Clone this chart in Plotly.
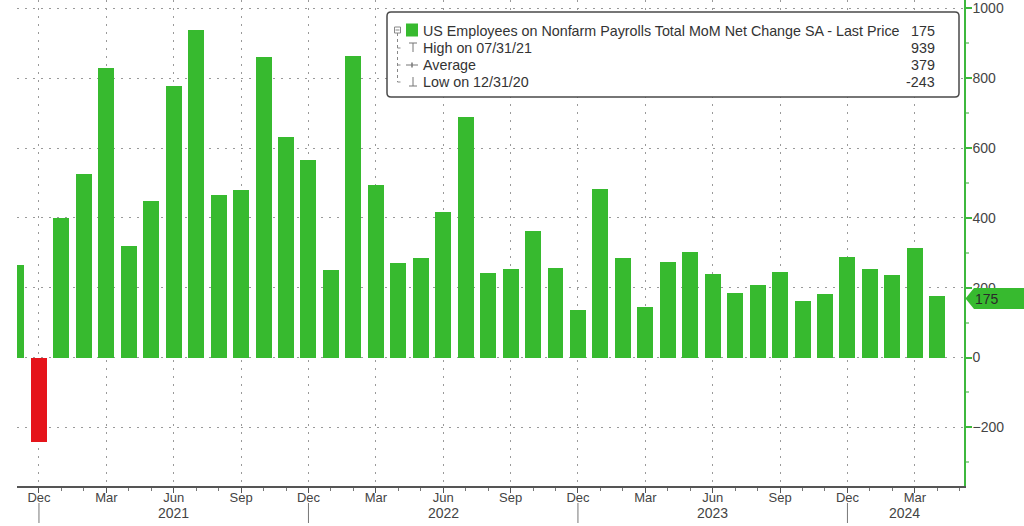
import plotly.graph_objects as go

# ---------------- data ----------------
months = ["Nov 2020", "Dec 2020",
          "Jan 2021", "Feb 2021", "Mar 2021", "Apr 2021", "May 2021", "Jun 2021",
          "Jul 2021", "Aug 2021", "Sep 2021", "Oct 2021", "Nov 2021", "Dec 2021",
          "Jan 2022", "Feb 2022", "Mar 2022", "Apr 2022", "May 2022", "Jun 2022",
          "Jul 2022", "Aug 2022", "Sep 2022", "Oct 2022", "Nov 2022", "Dec 2022",
          "Jan 2023", "Feb 2023", "Mar 2023", "Apr 2023", "May 2023", "Jun 2023",
          "Jul 2023", "Aug 2023", "Sep 2023", "Oct 2023", "Nov 2023", "Dec 2023",
          "Jan 2024", "Feb 2024", "Mar 2024", "Apr 2024"]
values = [264, -243,
          400, 526, 830, 318, 449, 779, 939, 465, 480, 861, 632, 566,
          251, 864, 495, 270, 285, 418, 690, 242, 254, 361, 257, 136,
          483, 285, 145, 275, 303, 239, 185, 209, 245, 163, 181, 288,
          254, 236, 315, 175]

tick_months = ["Dec 2020", "Mar 2021", "Jun 2021", "Sep 2021", "Dec 2021",
               "Mar 2022", "Jun 2022", "Sep 2022", "Dec 2022", "Mar 2023",
               "Jun 2023", "Sep 2023", "Dec 2023", "Mar 2024"]
tick_text = ["Dec", "Mar", "Jun", "Sep", "Dec", "Mar", "Jun", "Sep",
             "Dec", "Mar", "Jun", "Sep", "Dec", "Mar"]
year_labels = ["2021", "2022", "2023", "2024"]
year_pos = [7, 19, 31, 39.56]
year_breaks = ["Dec 2020", "Dec 2021", "Dec 2022", "Dec 2023"]
y_ticks = [-200, 0, 200, 400, 600, 800, 1000]

series_name = "US Employees on Nonfarm Payrolls Total MoM Net Change SA - Last Price"
legend_rows = [("High on 07/31/21", "939"), ("Average", "379"), ("Low on 12/31/20", "-243")]
last_value = values[-1]

# ---------------- layout constants ----------------
W, H = 1024, 526
ML, MR, MT, MB = 17, 60, 0, 40
PW, PH = W - ML - MR, H - MT - MB
GREEN = "#37BA2F"
RED = "#E5141B"
AXG = "#3DB83D"

def px(x):
    return (x - ML) / PW

def py(y):
    return (H - MB - y) / PH

xpos = list(range(len(months)))
colors = [RED if v < 0 else GREEN for v in values]

fig = go.Figure()
fig.add_trace(go.Bar(x=xpos, y=values, marker=dict(color=colors, line=dict(width=0)),
                     width=0.71, showlegend=False, hoverinfo="skip"))

fig.update_layout(
    width=W, height=H, margin=dict(l=ML, r=MR, t=MT, b=MB, pad=0),
    paper_bgcolor="white", plot_bgcolor="white",
    font=dict(family="Liberation Sans, Arial, sans-serif", color="#444", size=13),
    showlegend=False, bargap=0,
)

fig.update_xaxes(
    range=[0.022, 42.19],
    tickmode="array", tickvals=[months.index(m) for m in tick_months], ticktext=tick_text,
    ticks="outside", ticklen=5, tickcolor="#555", tickwidth=1,
    ticklabelstandoff=-6,
    tickfont=dict(size=13, color="#444"),
    showline=True, linecolor="#555", linewidth=1.5,
    showgrid=True, gridcolor="#9a9a9a", gridwidth=1, griddash="2px,6px",
    zeroline=False, fixedrange=True,
    minor=dict(tickmode="linear", tick0=0, dtick=1, ticks="outside", ticklen=3,
               tickcolor="#777", showgrid=False),
)

fig.update_yaxes(
    range=[-368, 1024], side="right",
    tickmode="array", tickvals=y_ticks,
    ticks="outside", ticklen=6, tickwidth=2, tickcolor=AXG,
    ticklabelstandoff=-2,
    tickfont=dict(size=14, color="#444"),
    showline=True, linecolor=AXG, linewidth=1.5,
    showgrid=True, gridcolor="#9a9a9a", gridwidth=1, griddash="2px,6px",
    zeroline=False, fixedrange=True,
    minor=dict(tickmode="linear", tick0=0, dtick=100, ticks="outside", ticklen=3,
               tickcolor="#9bd49b", showgrid=False),
)

shapes = []
annotations = []

# year separators (long ticks under Dec)
for m in year_breaks:
    shapes.append(dict(type="line", xref="x", yref="paper", x0=months.index(m), x1=months.index(m),
                       y0=py(503), y1=py(523), line=dict(color="#777", width=1)))
for t, xp in zip(year_labels, year_pos):
    annotations.append(dict(x=xp, y=py(513), xref="x", yref="paper", text=t, showarrow=False,
                            xanchor="center", yanchor="middle", font=dict(size=14, color="#444")))

# legend box
L, R, T, B, r = 387, 959, 12, 97, 4
box = (f"M {px(L+r)} {py(T)} L {px(R-r)} {py(T)} Q {px(R)} {py(T)} {px(R)} {py(T+r)} "
       f"L {px(R)} {py(B-r)} Q {px(R)} {py(B)} {px(R-r)} {py(B)} "
       f"L {px(L+r)} {py(B)} Q {px(L)} {py(B)} {px(L)} {py(B-r)} "
       f"L {px(L)} {py(T+r)} Q {px(L)} {py(T)} {px(L+r)} {py(T)} Z")
shapes.append(dict(type="path", xref="paper", yref="paper", path=box,
                   fillcolor="white", line=dict(color="#4a4a4a", width=1.5), layer="above"))

def seg(x0, y0, x1, y1, color="#888", width=1, dash=None):
    ln = dict(color=color, width=width)
    if dash:
        ln["dash"] = dash
    shapes.append(dict(type="line", xref="paper", yref="paper", x0=px(x0), y0=py(y0),
                       x1=px(x1), y1=py(y1), line=ln, layer="above"))

row_y = [31, 48, 65, 82]
# tree lines
seg(397.5, 33, 397.5, 82, dash="dot")
for yy in row_y[1:]:
    seg(397.5, yy, 403, yy, dash="dot")
# collapse box
shapes.append(dict(type="rect", xref="paper", yref="paper", x0=px(394.5), x1=px(400.5),
                   y0=py(27), y1=py(33), line=dict(color="#888", width=1),
                   fillcolor="white", layer="above"))
seg(395.5, 30, 399.5, 30)
# green square
shapes.append(dict(type="rect", xref="paper", yref="paper", x0=px(406), x1=px(418),
                   y0=py(23.5), y1=py(36.5), line=dict(width=0), fillcolor=GREEN, layer="above"))
# high symbol
seg(409, 43, 417, 43, color="#777")
seg(413, 43, 413, 52, color="#777")
# average symbol
seg(406, 65, 418, 65, color="#777")
seg(412, 62.5, 412, 67.5, color="#777", width=1.5)
# low symbol
seg(413, 77, 413, 86, color="#777")
seg(409, 86, 417, 86, color="#777")

lab_rows = [(series_name, str(last_value))] + legend_rows
for (lab, val), yy in zip(lab_rows, row_y):
    annotations.append(dict(x=px(421), y=py(yy), xref="paper", yref="paper", text=lab,
                            showarrow=False, xanchor="left", yanchor="middle",
                            font=dict(size=14.3, color="#333")))
    annotations.append(dict(x=px(937), y=py(yy), xref="paper", yref="paper", text=val,
                            showarrow=False, xanchor="right", yanchor="middle",
                            font=dict(size=14.3, color="#333")))

# last value tag on the right axis
ty0, ty1, tc = 288, 309, 298.5
tag = (f"M {px(965.5)} {py(tc)} L {px(974)} {py(ty0)} L {px(1024)} {py(ty0)} "
       f"L {px(1024)} {py(ty1)} L {px(974)} {py(ty1)} Z")
shapes.append(dict(type="path", xref="paper", yref="paper", path=tag,
                   fillcolor=GREEN, line=dict(width=0), layer="above"))
annotations.append(dict(x=px(973), y=py(tc), xref="paper", yref="paper", text=str(last_value),
                        showarrow=False, xanchor="left", yanchor="middle",
                        font=dict(size=14, color="#2a2a2a")))

fig.update_layout(shapes=shapes, annotations=annotations)
fig.write_html("out.html")
